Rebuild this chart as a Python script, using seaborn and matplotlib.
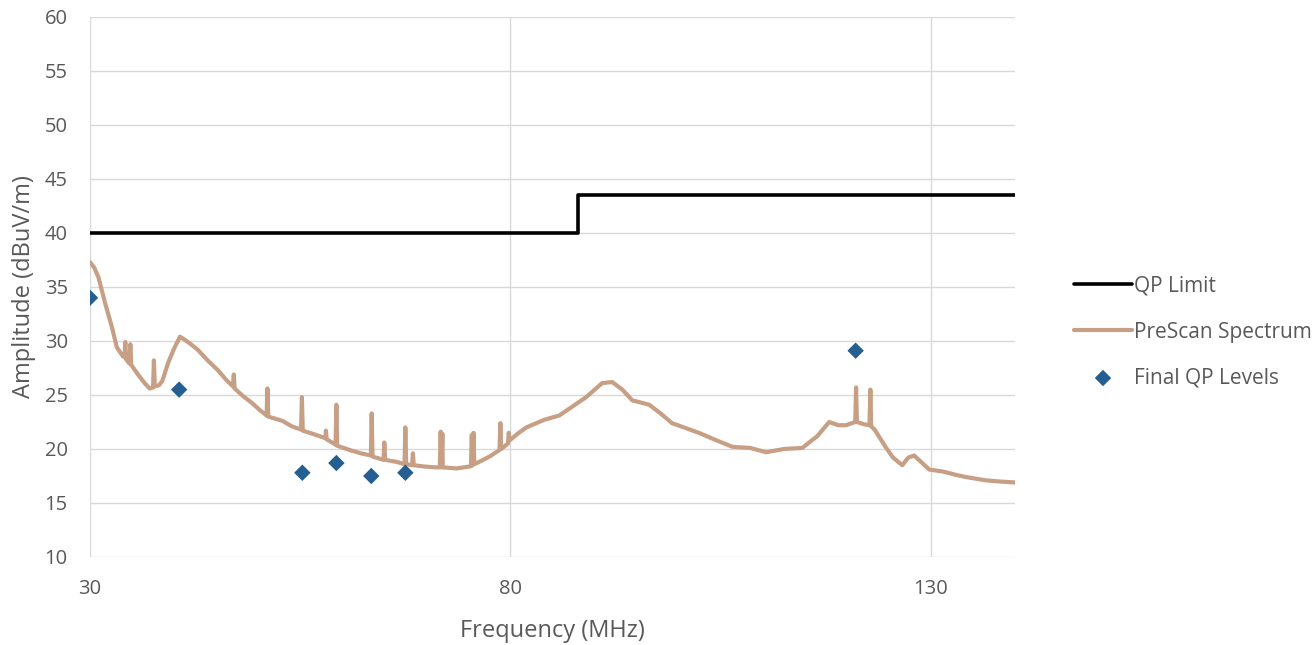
import matplotlib
matplotlib.use("Agg")
import matplotlib.pyplot as plt
import seaborn as sns
import pandas as pd

# QP limit line (step at 88 MHz)
limit_freq = [30, 88, 88, 140]
limit_amp = [40, 40, 43.5, 43.5]

# prescan spectrum (spikes included)
spec_freq = [30.0, 30.5, 31.0, 31.8, 32.6, 33.2, 33.9, 34.1, 34.2, 34.3, 34.7, 34.8, 34.9,
             35.7, 36.5, 37.1, 37.5, 37.6, 37.7, 38.2, 38.6, 39.3, 40.0, 40.7, 41.3, 42.0,
             42.8, 44.0, 45.2, 46.2, 47.0, 47.1, 47.2, 48.2, 49.2, 50.2, 51.0, 51.1, 51.2,
             52.9, 54.0, 55.1, 55.2, 55.3, 56.5, 58.0, 58.05, 58.15, 59.2, 59.3, 59.4,
             60.9, 62.2, 63.4, 63.5, 63.6, 64.9, 65.0, 65.1, 66.5, 67.4, 67.5, 67.6,
             68.3, 68.4, 68.5, 69.5, 71.0, 71.6, 71.7, 71.8, 71.9, 71.95, 73.6,
             75.3, 75.4, 75.5, 75.6, 75.7, 76.0, 77.5, 78.7, 78.8, 78.9, 79.7, 79.8, 79.9,
             81.0, 81.9, 84.0, 85.8, 87.5, 89.0, 90.9, 92.1, 93.3, 94.5, 96.5, 98.0, 99.2,
             102.4, 104.5, 106.4, 108.5, 110.4, 112.5, 114.7, 116.5, 117.9, 119.0, 119.9,
             121.0, 121.1, 121.2, 122.0, 122.7, 122.8, 122.9, 123.3, 124.6, 125.5, 126.6,
             127.3, 128.0, 128.7, 129.8, 131.5, 133.0, 134.2, 136.5, 138.0, 140.0]
spec_amp = [37.3, 36.8, 35.9, 33.5, 31.3, 29.4, 28.6, 28.5, 29.9, 28.3, 27.9, 29.7, 27.8,
            26.9, 26.1, 25.6, 25.7, 28.2, 25.8, 25.9, 26.3, 28.0, 29.3, 30.4, 30.1, 29.7,
            29.2, 28.2, 27.3, 26.4, 25.8, 26.9, 25.6, 24.9, 24.3, 23.6, 23.1, 25.6, 23.0,
            22.6, 22.1, 21.8, 24.8, 21.7, 21.4, 21.0, 21.7, 20.9, 20.4, 24.1, 20.3,
            19.9, 19.6, 19.4, 23.3, 19.3, 19.0, 20.6, 19.0, 18.8, 18.6, 22.0, 18.6,
            18.5, 19.6, 18.5, 18.4, 18.3, 18.3, 21.6, 18.3, 21.4, 18.3, 18.2,
            18.4, 21.3, 18.5, 21.5, 18.6, 18.7, 19.3, 19.9, 22.4, 20.0, 20.5, 21.5, 20.8,
            21.5, 22.0, 22.7, 23.1, 24.0, 24.8, 26.1, 26.2, 25.5, 24.5, 24.1, 23.2, 22.4,
            21.5, 20.8, 20.2, 20.1, 19.7, 20.0, 20.1, 21.2, 22.5, 22.2, 22.2,
            22.5, 25.7, 22.5, 22.3, 22.2, 25.5, 22.1, 21.8, 20.2, 19.2, 18.5,
            19.2, 19.4, 18.9, 18.1, 17.9, 17.6, 17.4, 17.1, 17.0, 16.9]

# final quasi-peak measurements
qp_freq = [30.0, 40.6, 55.25, 59.3, 63.45, 67.5, 121.05]
qp_amp = [34.0, 25.5, 17.8, 18.7, 17.5, 17.8, 29.1]

limit_df = pd.DataFrame({"freq": limit_freq, "amp": limit_amp})
spec_df = pd.DataFrame({"freq": spec_freq, "amp": spec_amp})
qp_df = pd.DataFrame({"freq": qp_freq, "amp": qp_amp})

sns.set_style("white")
plt.rcParams["font.family"] = ["Open Sans", "DejaVu Sans"]

text_col = "#595959"
grid_col = "#D9D9D9"

fig = plt.figure(figsize=(13.15, 6.45), dpi=100)
ax = fig.add_axes([90 / 1315, 1 - 557 / 645, 925 / 1315, 540 / 645])

sns.lineplot(data=limit_df, x="freq", y="amp", ax=ax, sort=False, estimator=None,
             color="black", linewidth=2.6, label="QP Limit", zorder=3)
sns.lineplot(data=spec_df, x="freq", y="amp", ax=ax, sort=False, estimator=None,
             color="#C79F85", linewidth=3, label="PreScan Spectrum", zorder=2)
sns.scatterplot(data=qp_df, x="freq", y="amp", ax=ax, marker="D", s=70,
                color="#255E91", edgecolor="none", label="Final QP Levels", zorder=4)

ax.set_xlim(30, 140)
ax.set_ylim(10, 60)
ax.set_xticks([30, 80, 130])
ax.set_yticks(range(10, 61, 5))
ax.grid(True, color=grid_col, linewidth=1)
ax.set_axisbelow(True)
for s in ax.spines.values():
    s.set_visible(False)
ax.tick_params(length=0, labelsize=14.5, labelcolor=text_col)
ax.tick_params(axis="x", pad=16)
ax.tick_params(axis="y", pad=16)

ax.set_xlabel("Frequency (MHz)", fontsize=17, color=text_col, labelpad=14)
ax.set_ylabel("Amplitude (dBuV/m)", fontsize=17, color=text_col, labelpad=6)

handles, labels = ax.get_legend_handles_labels()
ax.get_legend().remove()
leg = fig.legend(handles, labels, loc="center left", bbox_to_anchor=(1066 / 1315, 1 - 332 / 645),
                 frameon=False, fontsize=15, handlelength=2.75, labelspacing=1.2,
                 handletextpad=0.1, borderaxespad=0)
for t in leg.get_texts():
    t.set_color(text_col)

fig.savefig("out.png", dpi=100)
